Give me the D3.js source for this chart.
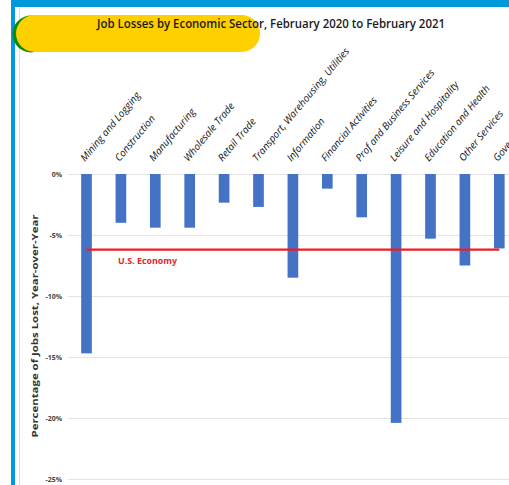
<!DOCTYPE html>
<html>
<head>
<meta charset="utf-8">
<script src="https://cdn.jsdelivr.net/npm/d3@7"></script>
<style>
  html, body { margin: 0; padding: 0; background: #fff; }
  svg { display: block; }
</style>
</head>
<body>
<svg id="chart" width="509" height="485"></svg>
<script>
const categories = [
  "Mining and Logging", "Construction", "Manufacturing", "Wholesale Trade",
  "Retail Trade", "Transport, Warehousing, Utilities", "Information",
  "Financial Activities", "Prof and Business Services", "Leisure and Hospitality",
  "Education and Health", "Other Services", "Government"
];
const values = [-14.7, -4.0, -4.4, -4.4, -2.35, -2.7, -8.5, -1.2, -3.55, -20.4, -5.3, -7.5, -6.1];
const usEconomy = -6.2;
const yTicks = [0, -5, -10, -15, -20, -25];
const yTickLabels = ["0%", "-5%", "-10%", "-15%", "-20%", "-25%"];
const title = "Job Losses by Economic Sector, February 2020 to February 2021";
const yTitle = "Percentage of Jobs Lost, Year-over-Year";
const usLabel = "U.S. Economy";

const svg = d3.select("#chart");

// decorative frame
svg.append("line").attr("x1", 19.5).attr("x2", 19.5).attr("y1", 7).attr("y2", 485)
  .attr("stroke", "#dcdcdc").attr("stroke-width", 1);

const y = d3.scaleLinear().domain([-25, 0]).range([479, 174]);
const x = d3.scaleBand().domain(categories).range([69.3, 516.5])
  .paddingInner(0.69).paddingOuter(0.345);

// gridlines
const grid = svg.append("g").attr("transform", "translate(68,0)")
  .call(d3.axisLeft(y).tickValues(yTicks).tickSize(-460).tickFormat(""));
grid.select(".domain").remove();
grid.selectAll("line").attr("stroke", "#e4e4e4").attr("stroke-width", 1);

// y tick labels
const yAxis = svg.append("g").attr("transform", "translate(62,0)")
  .call(d3.axisLeft(y).tickValues(yTicks).tickSize(0).tickPadding(0)
    .tickFormat((d, i) => yTickLabels[i]));
yAxis.select(".domain").remove();
yAxis.selectAll("text").attr("font-family", "Open Sans, sans-serif")
  .attr("font-size", 7).attr("font-weight", 700).attr("fill", "#444");

// bars
svg.append("g").selectAll("rect").data(categories).join("rect")
  .attr("x", d => x(d))
  .attr("width", x.bandwidth())
  .attr("y", y(0))
  .attr("height", (d, i) => y(values[i]) - y(0))
  .attr("fill", "#4472C4");

// US economy line
const first = categories[0], last = categories[categories.length - 1];
svg.append("line")
  .attr("x1", x(first) + x.bandwidth() / 2)
  .attr("x2", x(last) + x.bandwidth() / 2)
  .attr("y1", y(usEconomy)).attr("y2", y(usEconomy))
  .attr("stroke", "#ee1c24").attr("stroke-width", 2.2);
svg.append("text").attr("x", 118).attr("y", 263.5)
  .attr("font-family", "Open Sans, sans-serif").attr("font-size", 8.5)
  .attr("font-weight", 700).attr("fill", "#e3262b")
  .attr("textLength", 59).attr("lengthAdjust", "spacingAndGlyphs")
  .text(usLabel);

// category labels
svg.append("g").selectAll("text").data(categories).join("text")
  .attr("transform", d => `translate(${x(d) + x.bandwidth() / 2 - 1.5},162) rotate(-50)`)
  .attr("font-family", "Open Sans, sans-serif").attr("font-size", 10)
  .attr("font-style", "italic").attr("fill", "#111")
  .text(d => d);

// y title
svg.append("text").attr("transform", "translate(38,326) rotate(-90)")
  .attr("text-anchor", "middle")
  .attr("font-family", "Open Sans, sans-serif").attr("font-size", 9)
  .attr("font-weight", 700).attr("fill", "#333")
  .attr("textLength", 223).attr("lengthAdjust", "spacingAndGlyphs")
  .text(yTitle);

// top and left blue strips
svg.append("rect").attr("x", 11).attr("y", 0).attr("width", 498).attr("height", 7).attr("fill", "#0099dc");
svg.append("rect").attr("x", 11).attr("y", 0).attr("width", 4).attr("height", 485).attr("fill", "#0099dc");

// green and yellow shapes
svg.append("circle").attr("cx", 31).attr("cy", 34).attr("r", 18.5).attr("fill", "#0a8a0a");
svg.append("rect").attr("x", 16).attr("y", 15).attr("width", 244).attr("height", 37)
  .attr("rx", 18.5).attr("fill", "#ffd000");

// title
svg.append("text").attr("x", 97).attr("y", 28)
  .attr("font-family", "Open Sans, sans-serif").attr("font-size", 12)
  .attr("font-weight", 600).attr("fill", "#1a1a1a")
  .attr("textLength", 348).attr("lengthAdjust", "spacingAndGlyphs")
  .text(title);
</script>
</body>
</html>
